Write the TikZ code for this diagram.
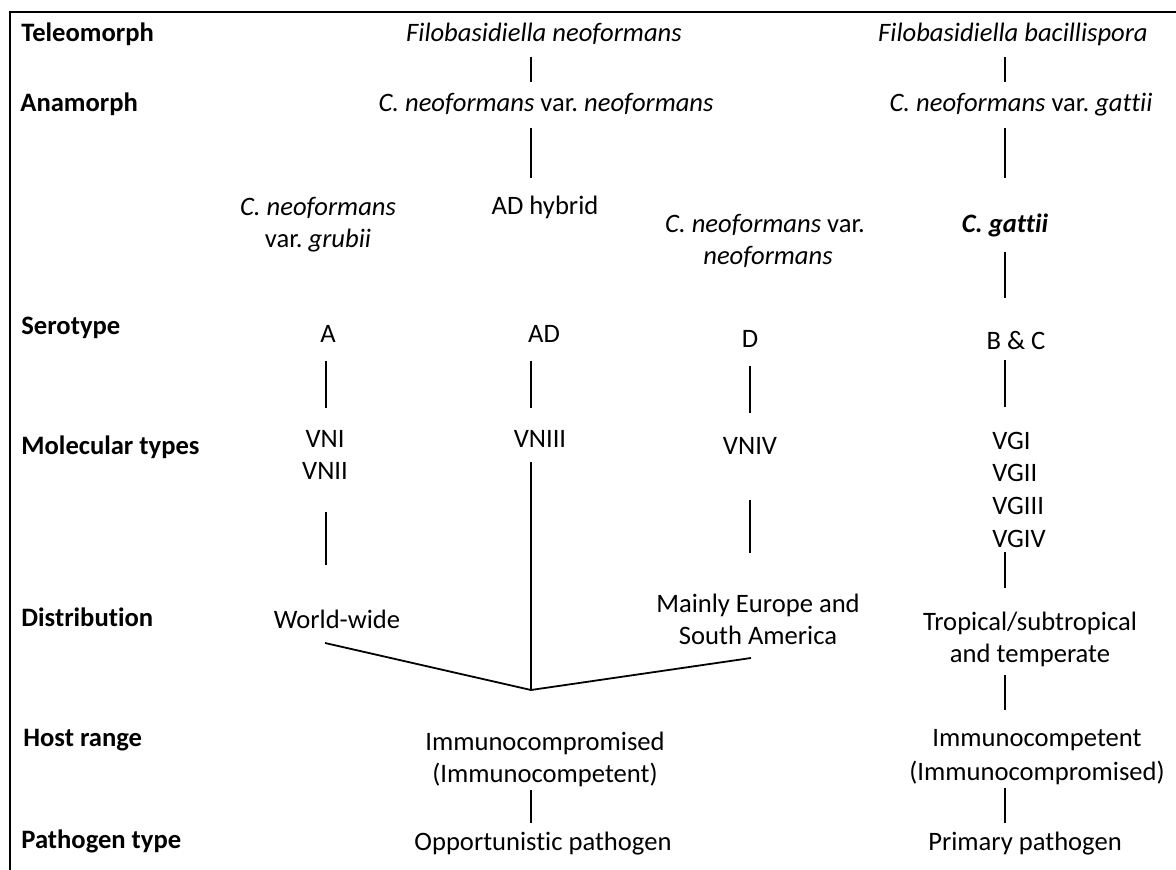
\documentclass[tikz,border=0pt]{standalone}
\usepackage{fontspec}
\setmainfont{Carlito}[Ligatures=NoCommon]
\begin{document}
\frenchspacing
\begin{tikzpicture}[x=0.5pt,y=-0.5pt,
  every node/.style={inner sep=0pt,font=\fontsize{13.3}{16}\selectfont},
  lab/.style={anchor=base west,font=\fontsize{13.3}{16}\selectfont\bfseries},
  txt/.style={anchor=base},
  conn/.style={line width=0.9pt,line cap=butt},
  frame/.style={line width=1.1pt}]
\useasboundingbox (0,0) rectangle (1176,870);
\draw[frame] (10,870) -- (10,12) -- (1176,12);

% row labels
\node[lab] (lTel) at (21,42) {Teleomorph};
\node[lab] (lAna) at (20,112) {Anamorph};
\node[lab] (lSer) at (21,335) {Serotype};
\node[lab] (lMol) at (21,455) {Molecular types};
\node[lab] (lDis) at (21,626) {Distribution};
\node[lab] (lHost) at (23,746) {Host range};
\node[lab] (lPat) at (21,848) {Pathogen type};

% teleomorph / anamorph
\node[txt] (tNeo) at (544,42) {\itshape Filobasidiella neoformans};
\node[txt] (tBac) at (1013,42) {\itshape Filobasidiella bacillispora};
\node[txt] (aNeo) at (546,112) {\textit{C. neoformans} var. \textit{neoformans}};
\node[txt] (aGat) at (1021,112) {\textit{C. neoformans} var. \textit{gattii}};

% varieties
\node[txt] (vGru1) at (318,216) {\itshape C. neoformans};
\node[txt] (vGru2) at (318,248) {var. \textit{grubii}};
\node[txt] (vAD) at (545,215) {AD hybrid};
\node[txt] (vNeo1) at (765,233) {\textit{C. neoformans} var.};
\node[txt] (vNeo2) at (768,265) {\itshape neoformans};
\node[txt] (vGat) at (1005,233) {\bfseries\itshape C. gattii};

% serotypes
\node[txt] (sA) at (328,343) {A};
\node[txt] (sAD) at (544,343) {AD};
\node[txt] (sD) at (750,348) {D};
\node[txt] (sBC) at (1016,350) {B \& C};

% molecular types
\node[txt] (mVNI) at (325,448) {VNI};
\node[txt] (mVNII) at (325,480) {VNII};
\node[txt] (mVNIII) at (540,448) {VNIII};
\node[txt] (mVNIV) at (750,455) {VNIV};
\node[anchor=base west] (mVGI) at (992,450) {VGI};
\node[anchor=base west] (mVGII) at (992,482) {VGII};
\node[anchor=base west] (mVGIII) at (992,515) {VGIII};
\node[anchor=base west] (mVGIV) at (992,547) {VGIV};

% distribution
\node[txt] (dWW) at (337,628) {World-wide};
\node[txt] (dEu1) at (758,612) {Mainly Europe and};
\node[txt] (dEu2) at (758,644) {South America};
\node[txt] (dTr1) at (1030,630) {Tropical/subtropical};
\node[txt] (dTr2) at (1030,662) {and temperate};

% host range
\node[txt] (hL1) at (545,750) {Immunocompromised};
\node[txt] (hL2) at (545,782) {(Immunocompetent)};
\node[txt] (hR1) at (1037,746) {Immunocompetent};
\node[txt] (hR2) at (1037,780) {(Immunocompromised)};

% pathogen type
\node[txt] (pL) at (543,850) {Opportunistic pathogen};
\node[txt] (pR) at (1025,850) {Primary pathogen};

% connector end points
\coordinate (c1a) at (531,57);  \coordinate (c1b) at (531,82);
\coordinate (c2a) at (1005,57); \coordinate (c2b) at (1005,82);
\coordinate (c3a) at (531,128); \coordinate (c3b) at (531,178);
\coordinate (c4a) at (1005,128);\coordinate (c4b) at (1005,178);
\coordinate (c5a) at (1005,252);\coordinate (c5b) at (1005,298);
\coordinate (c6a) at (326,361); \coordinate (c6b) at (326,408);
\coordinate (c7a) at (531,361); \coordinate (c7b) at (531,408);
\coordinate (c8a) at (750,366); \coordinate (c8b) at (750,413);
\coordinate (c9a) at (1005,360);\coordinate (c9b) at (1005,407);
\coordinate (c10a) at (326,512);\coordinate (c10b) at (326,565);
\coordinate (c11a) at (750,500);\coordinate (c11b) at (750,553);
\coordinate (c12a) at (531,462);\coordinate (vtx) at (531,690);
\coordinate (c13a) at (1005,552);\coordinate (c13b) at (1005,588);
\coordinate (dwl) at (325,643); \coordinate (der) at (751,658);
\coordinate (c14a) at (1005,675);\coordinate (c14b) at (1005,710);
\coordinate (c15a) at (531,790);\coordinate (c15b) at (531,823);
\coordinate (c16a) at (1005,788);\coordinate (c16b) at (1005,823);

\draw[conn] (c1a) -- (c1b);
\draw[conn] (c2a) -- (c2b);
\draw[conn] (c3a) -- (c3b);
\draw[conn] (c4a) -- (c4b);
\draw[conn] (c5a) -- (c5b);
\draw[conn] (c6a) -- (c6b);
\draw[conn] (c7a) -- (c7b);
\draw[conn] (c8a) -- (c8b);
\draw[conn] (c9a) -- (c9b);
\draw[conn] (c10a) -- (c10b);
\draw[conn] (c11a) -- (c11b);
\draw[conn] (c12a) -- (vtx);
\draw[conn] (dwl) -- (vtx) -- (der);
\draw[conn] (c13a) -- (c13b);
\draw[conn] (c14a) -- (c14b);
\draw[conn] (c15a) -- (c15b);
\draw[conn] (c16a) -- (c16b);
\end{tikzpicture}
\end{document}
